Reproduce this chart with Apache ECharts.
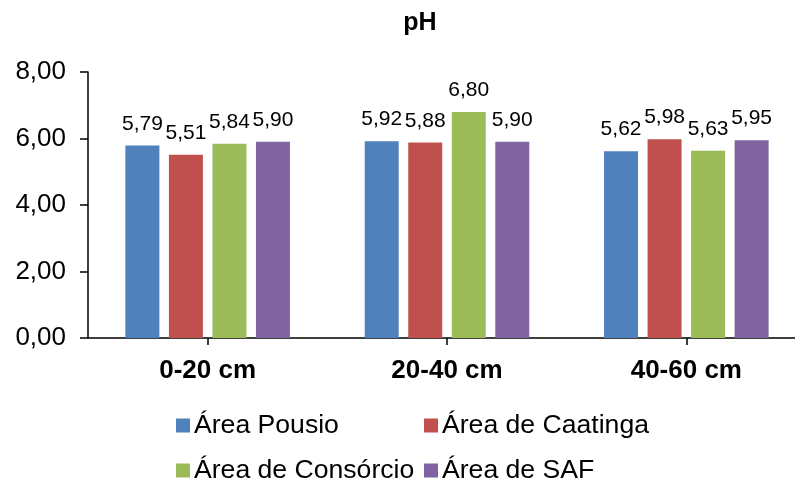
<!DOCTYPE html>
<html>
<head>
<meta charset="utf-8">
<script src="https://cdn.jsdelivr.net/npm/echarts@6/dist/echarts.min.js"></script>
<style>
  html, body { margin: 0; padding: 0; background: #fff; }
  #chart { width: 795px; height: 482px; }
</style>
</head>
<body>
<div id="chart"></div>
<script>
// Soil pH by depth layer and land-use area
const depths = ['0-20 cm', '20-40 cm', '40-60 cm'];
const seriesNames = ['Área Pousio', 'Área de Caatinga', 'Área de Consórcio', 'Área de SAF'];
const pousio = [5.79, 5.92, 5.62];
const caatinga = [5.51, 5.88, 5.98];
const consorcio = [5.84, 6.80, 5.63];
const saf = [5.90, 5.90, 5.95];
const yTicks = [0, 2, 4, 6, 8];

const colors = ['#4F81BD', '#C0504D', '#9BBB59', '#8064A2'];
const FONT = '"Liberation Sans", Arial, sans-serif';
const fmt = v => v.toFixed(2).replace('.', ',');

const values = [pousio, caatinga, consorcio, saf];

const series = seriesNames.map((name, i) => ({
  name: name,
  type: 'bar',
  data: values[i],
  barWidth: 34,
  barGap: '28%',
  itemStyle: { color: colors[i] },
  label: {
    show: true,
    position: 'top',
    distance: 11,
    formatter: p => fmt(p.value),
    color: '#000',
    fontFamily: FONT,
    fontSize: 21
  }
}));

// one legend box per entry, laid out in two rows of two columns
const legendSpots = [
  { left: 176, top: 412 },
  { left: 424, top: 412 },
  { left: 176, top: 457 },
  { left: 424, top: 457 }
];
const legends = seriesNames.map((name, i) => ({
  data: [name],
  left: legendSpots[i].left,
  top: legendSpots[i].top,
  icon: 'rect',
  itemWidth: 14,
  itemHeight: 14,
  itemGap: 0,
  padding: 0,
  textStyle: { fontFamily: FONT, fontSize: 26.6, color: '#000', padding: [0, 0, 0, -1] }
}));

const chart = echarts.init(document.getElementById('chart'), null, { renderer: 'canvas' });
chart.setOption({
  animation: false,
  backgroundColor: '#fff',
  color: colors,
  title: {
    text: 'pH',
    left: 415,
    top: 6,
    textAlign: 'center',
    textStyle: { fontFamily: FONT, fontSize: 25, fontWeight: 'bold', color: '#000' }
  },
  legend: legends,
  grid: {
    left: 88,
    right: -11,
    top: 72,
    bottom: 144,
    containLabel: false,
    outerBoundsMode: 'none'
  },
  xAxis: {
    type: 'category',
    data: depths,
    boundaryGap: true,
    axisLine: { lineStyle: { color: '#000', width: 1.5 } },
    axisTick: { show: true, alignWithLabel: true, length: 7, lineStyle: { color: '#000', width: 1.5 } },
    axisLabel: { color: '#000', fontFamily: FONT, fontSize: 26, fontWeight: 'bold', margin: 20 },
    splitLine: { show: false }
  },
  yAxis: {
    type: 'value',
    min: yTicks[0],
    max: yTicks[yTicks.length - 1],
    interval: yTicks[1] - yTicks[0],
    axisLine: { show: true, lineStyle: { color: '#000', width: 1.5 } },
    axisTick: { show: true, inside: false, length: 8, lineStyle: { color: '#000', width: 1.5 } },
    axisLabel: { color: '#000', fontFamily: FONT, fontSize: 26, margin: 22, formatter: v => fmt(v) },
    splitLine: { show: false }
  },
  series: series
});
</script>
</body>
</html>
